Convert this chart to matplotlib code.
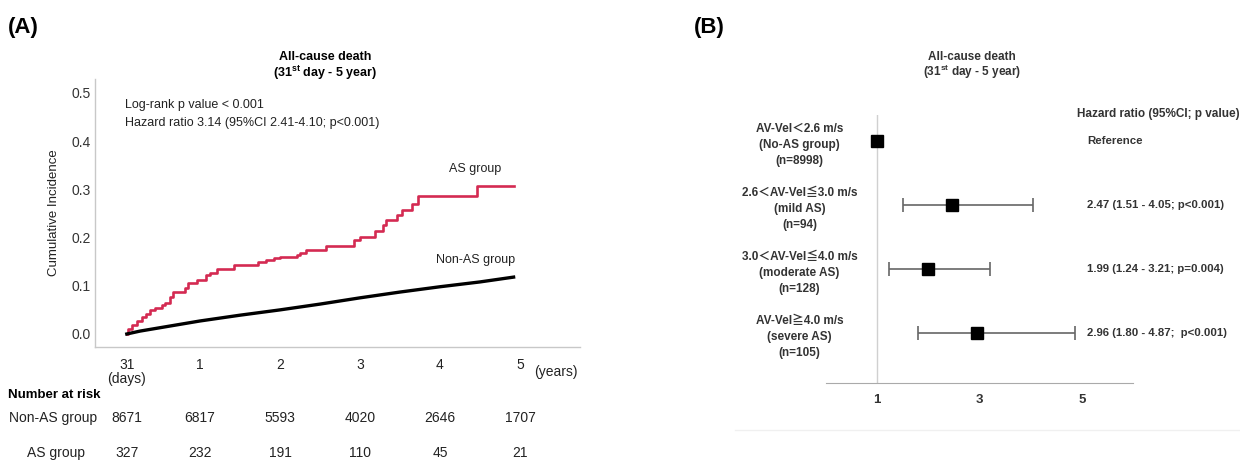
import matplotlib
matplotlib.use("Agg")
import matplotlib.pyplot as plt
import matplotlib.transforms as mtransforms
from matplotlib.lines import Line2D

plt.rcParams['font.family'] = ['Liberation Sans', 'Noto Sans CJK JP', 'DejaVu Sans']
plt.rcParams['mathtext.fontset'] = 'custom'
plt.rcParams['mathtext.rm'] = 'Liberation Sans'
plt.rcParams['mathtext.bf'] = 'Liberation Sans:bold'

# ---------------- Data: Kaplan-Meier panel (A) ----------------
as_times = [0.085, 0.10, 0.15, 0.21, 0.27, 0.33, 0.375, 0.44, 0.52, 0.56, 0.625, 0.667,
            0.81, 0.85, 0.96, 1.08, 1.125, 1.21, 1.42, 1.73, 1.83, 1.92, 2.0, 2.21,
            2.25, 2.33, 2.58, 2.92, 3.0, 3.19, 3.29, 3.33, 3.46, 3.52, 3.65, 3.73,
            4.46, 4.92]
as_cuminc = [0.0, 0.011, 0.018, 0.026, 0.035, 0.042, 0.049, 0.053, 0.060, 0.065, 0.077, 0.088,
             0.096, 0.105, 0.112, 0.122, 0.126, 0.135, 0.144, 0.149, 0.153, 0.157, 0.160, 0.163,
             0.167, 0.174, 0.183, 0.195, 0.202, 0.213, 0.226, 0.237, 0.247, 0.258, 0.269, 0.287,
             0.306, 0.306]

nonas_times = [0.085, 0.25, 0.5, 0.75, 1.0, 1.5, 2.0, 2.5, 3.0, 3.5, 4.0, 4.5, 4.92]
nonas_cuminc = [0.0, 0.006, 0.013, 0.020, 0.027, 0.039, 0.050, 0.062, 0.075, 0.087, 0.098, 0.108, 0.118]

tick_pos = [31 / 365, 1, 2, 3, 4, 5]
tick_labels = ["31\n(days)", "1", "2", "3", "4", "5"]
risk_nonas = [8671, 6817, 5593, 4020, 2646, 1707]
risk_as = [327, 232, 191, 110, 45, 21]

# ---------------- Data: forest panel (B) ----------------
row_labels = ["AV-Vel＜2.6 m/s\n(No-AS group)\n(n=8998)",
              "2.6＜AV-Vel≦3.0 m/s\n(mild AS)\n(n=94)",
              "3.0＜AV-Vel≦4.0 m/s\n(moderate AS)\n(n=128)",
              "AV-Vel≧4.0 m/s\n(severe AS)\n(n=105)"]
hr = [1.0, 2.47, 1.99, 2.96]
ci_lo = [None, 1.51, 1.24, 1.80]
ci_hi = [None, 4.05, 3.21, 4.87]
hr_text = ["Reference",
           "2.47 (1.51 - 4.05; p<0.001)",
           "1.99 (1.24 - 3.21; p=0.004)",
           "2.96 (1.80 - 4.87;  p<0.001)"]

W, H = 1240, 461
fig = plt.figure(figsize=(W / 100, H / 100), dpi=100)

def fx(px):
    return px / W

def fy(py):
    return 1 - py / H

# ================= Panel A =================
axA = fig.add_axes([fx(95), fy(347), fx(485), (347 - 79) / H])
axA.set_xlim(-0.3125, 5.75)
axA.set_ylim(-0.027, 0.529)
red = "#d42a52"
axA.step(as_times, as_cuminc, where="post", color=red, lw=1.9, zorder=3)
axA.plot(nonas_times, nonas_cuminc, color="black", lw=2.4, zorder=4)

for s in ["top", "right"]:
    axA.spines[s].set_visible(False)
for s in ["left", "bottom"]:
    axA.spines[s].set_color("#c8c8c8")
    axA.spines[s].set_linewidth(1.0)
axA.set_yticks([0.0, 0.1, 0.2, 0.3, 0.4, 0.5])
axA.set_yticklabels(["0.0", "0.1", "0.2", "0.3", "0.4", "0.5"], fontsize=10, color="#333333")
axA.set_xticks(tick_pos)
axA.set_xticklabels(tick_labels, fontsize=10, color="#222222", linespacing=1.0)
axA.tick_params(axis="both", length=0)
axA.tick_params(axis="y", pad=3)
axA.tick_params(axis="x", pad=8)
axA.set_ylabel("Cumulative Incidence", fontsize=9.5, color="#222222")
axA.yaxis.set_label_coords(-0.072, 0.5)

axA.text(0.06, 0.475, "Log-rank p value < 0.001", fontsize=9, color="#222222", va="center")
axA.text(0.06, 0.4375, "Hazard ratio 3.14 (95%CI 2.41-4.10; p<0.001)", fontsize=9,
         color="#222222", va="center")
axA.text(4.44, 0.342, "AS group", fontsize=9, color="#222222", ha="center", va="center")
axA.text(4.44, 0.154, "Non-AS group", fontsize=9, color="#222222", ha="center", va="center")
axA.text(5.45, -0.078, "(years)", fontsize=10, color="#222222", ha="center", va="center")

fig.text(fx(8), fy(28), "(A)", fontsize=16, fontweight="bold", va="center", ha="left")
fig.text(fx(325), fy(57), "All-cause death", fontsize=9, fontweight="bold", ha="center", va="center")
fig.text(fx(325), fy(73), r"(31$^{\mathbf{st}}$ day - 5 year)", fontsize=9, fontweight="bold",
         ha="center", va="center")

# number at risk table
trans = mtransforms.blended_transform_factory(axA.transData, fig.transFigure)
fig.text(fx(8), fy(395), "Number at risk", fontsize=9.5, fontweight="bold", ha="left", va="center")
fig.text(fx(53), fy(418), "Non-AS group", fontsize=10, ha="center", va="center", color="#222222")
fig.text(fx(56), fy(453), "AS group", fontsize=10, ha="center", va="center", color="#222222")
for xp, a, b in zip(tick_pos, risk_nonas, risk_as):
    fig.text(xp, fy(418), str(a), transform=trans, fontsize=10, ha="center", va="center", color="#222222")
    fig.text(xp, fy(453), str(b), transform=trans, fontsize=10, ha="center", va="center", color="#222222")

# ================= Panel B =================
axB = fig.add_axes([fx(826), fy(383), fx(307), (383 - 115) / H])
axB.set_xlim(0, 6)
axB.set_ylim(3.78, -0.41)
rows = list(range(len(hr)))
axB.axvline(1, color="#d0d0d0", lw=1.0, zorder=1)
for i in rows:
    if ci_lo[i] is not None:
        axB.errorbar(hr[i], i, xerr=[[hr[i] - ci_lo[i]], [ci_hi[i] - hr[i]]], fmt="none",
                     ecolor="#666666", elinewidth=1.2, capsize=5, capthick=1.2, zorder=2)
axB.plot(hr, rows, ls="none", marker="s", ms=8.5, color="black", zorder=3)

for s in ["top", "right", "left"]:
    axB.spines[s].set_visible(False)
axB.spines["bottom"].set_color("#aaaaaa")
axB.set_yticks([])
axB.set_xticks([1, 3, 5])
axB.set_xticklabels(["1", "3", "5"], fontsize=9.5, fontweight="bold", color="#333333")
axB.tick_params(axis="x", length=0, pad=8)

for i in rows:
    axB.text(-0.52, i + 0.06, row_labels[i], fontsize=8.5, fontweight="bold", ha="center", va="center",
             color="#333333", linespacing=1.42)
    axB.text(5.1, i, hr_text[i], fontsize=8.2, fontweight="bold", ha="left", va="center", color="#333333")
fig.text(fx(1077), fy(114), "Hazard ratio (95%CI; p value)", fontsize=8.5, fontweight="bold",
         ha="left", va="center", color="#333333")

fig.text(fx(694), fy(28), "(B)", fontsize=16, fontweight="bold", va="center", ha="left")
fig.text(fx(972), fy(57), "All-cause death", fontsize=8.5, fontweight="bold", ha="center", va="center",
         color="#333333")
fig.text(fx(972), fy(72), r"(31$^{\mathbf{st}}$ day - 5 year)", fontsize=8.5, fontweight="bold",
         ha="center", va="center", color="#333333")

fig.add_artist(Line2D([fx(735), fx(1240)], [fy(430), fy(430)], color="#f0f0f0", lw=1.0))

fig.savefig("out.png", dpi=100)
